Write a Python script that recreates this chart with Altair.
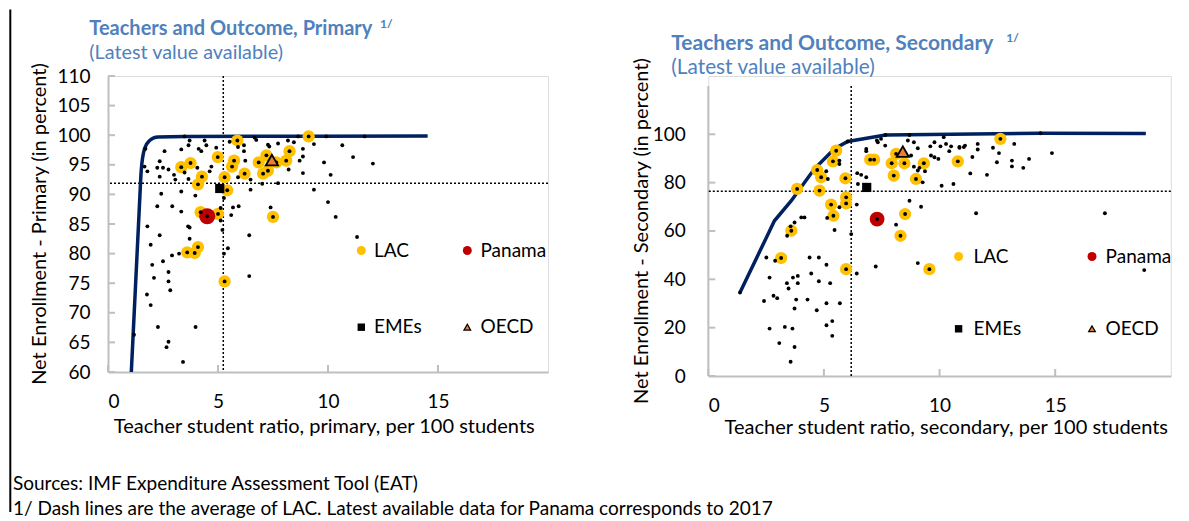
import altair as alt
import pandas as pd

FONT = "Lato"
TITLE_BLUE = "#4F81BD"
NAVY = "#002060"
YELLOW = "#FFC000"
RED = "#C00000"
ORANGE = "#ED7D31"
AXIS_GRAY = "#BFBFBF"

# ---------------- Primary (left) ----------------
p_all_x = [3.48, 3.71, 4.39, 1.70, 2.57, 3.33, 3.66, 4.12, 4.24, 4.47, 4.92, 5.53, 5.91, 6.18, 6.18, 6.66, 6.74, 7.27, 7.33, 7.73,
           8.18, 8.45, 8.64, 8.86, 9.36, 9.92, 10.65, 11.14, 1.66, 1.79, 2.35, 2.24, 2.5, 2.75, 3.0, 2.35, 3.06, 3.48, 3.66, 4.06,
           4.7, 4.62, 6.24, 6.48, 5.91, 7.01, 6.48, 7.73, 8.21, 8.71, 8.86, 8.86, 9.82, 10.12, 9.36, 10.0, 2.42, 3.33, 3.97, 2.24,
           2.92, 5.27, 5.68, 5.94, 7.39, 3.33, 5.12, 5.6, 10.35, 5.12, 5.2, 1.79, 3.64, 3.71, 2.35, 6.42, 11.32, 1.94, 3.71, 5.45,
           5.27, 2.91, 3.23, 2.5, 2.01, 2.75, 2.09, 2.75, 6.42, 2.83, 1.77, 1.94, 2.27, 3.98, 1.18, 2.75, 2.66, 3.41, 12.04, 11.66]
p_all_y = [99.8, 99.1, 99.1, 97.7, 97.3, 97.6, 98.3, 97.7, 97.3, 98.3, 97.9, 98.9, 98.0, 98.3, 97.3, 99.6, 99.2, 98.4, 98.1, 98.6,
           99.1, 98.8, 99.8, 97.7, 98.5, 99.8, 98.3, 96.3, 94.7, 93.9, 95.6, 94.5, 94.5, 94.2, 93.3, 93.0, 92.5, 93.7, 92.6, 94.5,
           94.7, 93.9, 95.7, 92.5, 92.9, 91.8, 90.8, 91.9, 94.2, 95.7, 96.4, 93.6, 95.4, 93.3, 90.8, 88.7, 90.1, 90.5, 89.8, 88.0,
           88.0, 89.4, 87.8, 88.0, 87.8, 87.1, 87.7, 86.5, 86.2, 85.6, 84.0, 84.6, 84.6, 84.4, 83.1, 83.1, 82.8, 81.5, 82.5, 80.9,
           80.0, 79.7, 80.0, 78.7, 78.1, 76.9, 75.9, 75.3, 76.2, 73.8, 73.1, 71.3, 67.6, 67.6, 66.3, 65.1, 64.2, 61.7, 95.2, 99.8]
p_lac_x = [5.88, 4.99, 3.75, 3.33, 4.27, 4.09, 5.73, 5.64, 5.3, 5.42, 6.21, 6.85, 7.2, 7.05, 7.27, 7.65, 8.1, 8.25, 9.12,
           4.21, 5.0, 7.5, 3.6, 3.94, 4.09, 5.3]
p_lac_y = [99.1, 96.3, 95.3, 94.6, 93.0, 91.7, 95.7, 94.7, 92.9, 90.7, 93.5, 95.4, 96.6, 93.5, 94.0, 95.4, 95.7, 97.3, 99.8,
           87.0, 86.7, 86.2, 80.2, 80.1, 81.1, 75.3]
p_pan = (4.51, 86.3)
p_eme = (5.08, 91.0)
p_oecd = (7.45, 95.8)
p_avg = (5.24, 91.9)
p_front_x = [1.06, 1.44, 1.51, 1.66, 1.89, 2.27, 3.5, 14.53]
p_front_y = [60.0, 89.0, 94.0, 97.7, 99.1, 99.7, 99.8, 99.85]
p_xticks = [0, 5, 10, 15]
p_yticks = [60, 65, 70, 75, 80, 85, 90, 95, 100, 105, 110]

# ---------------- Secondary (right) ----------------
s_all_x = [6.03, 7.29, 7.33, 7.47, 7.65, 8.7, 8.63, 8.89, 9.06, 9.6, 9.78, 10.04, 10.18, 10.28, 10.5, 10.42, 9.63, 9.78, 9.95,
           10.86, 6.83, 6.83, 8.77, 9.13, 9.06, 8.89, 9.37, 6.44, 6.61, 6.83, 6.47, 9.27, 10.09, 10.6, 5.67, 5.67, 5.17, 5.1,
           4.02, 4.16, 5.14, 5.67, 6.42, 8.7, 9.2, 8.12, 5.46, 7.66, 3.73, 3.56, 3.41, 6.18, 2.51, 2.89, 4.38, 4.78, 5.11, 6.42,
           7.24, 9.06, 2.65, 3.66, 3.87, 4.45, 3.87, 3.4, 4.78, 5.27, 3.47, 2.41, 2.82, 2.98, 3.8, 4.29, 5.11, 5.69, 3.73, 4.69,
           2.65, 3.31, 3.64, 5.36, 5.11, 5.36, 3.07, 3.73, 3.56, 1.37, 14.36, 10.86, 11.05, 11.1, 11.65, 11.65, 12.31, 12.57,
           13.23, 11.42, 12.48, 13.13, 13.13, 13.62, 13.87, 14.86, 11.33, 12.05, 11.58, 17.15, 18.85]
s_all_y = [97.0, 97.4, 96.7, 98.1, 95.3, 99.7, 97.4, 96.7, 94.2, 95.0, 96.7, 95.0, 98.8, 96.0, 95.0, 93.0, 91.2, 90.5, 89.8,
           94.8, 93.9, 93.0, 91.2, 86.1, 85.0, 86.6, 84.7, 83.9, 83.2, 82.2, 79.4, 80.1, 78.7, 79.4, 89.1, 87.7, 81.5, 84.7,
           65.6, 65.6, 65.4, 69.8, 70.9, 72.5, 70.0, 62.6, 60.4, 99.7, 63.5, 61.9, 58.0, 58.7, 49.0, 47.7, 49.0, 49.0, 46.0, 42.4,
           45.3, 46.7, 40.7, 40.7, 41.4, 42.4, 38.4, 38.4, 39.2, 38.4, 36.2, 31.0, 33.2, 32.2, 31.6, 31.6, 30.1, 30.1, 27.9, 27.2,
           19.6, 20.3, 19.6, 22.7, 21.0, 16.6, 13.6, 12.0, 5.9, 34.5, 100.4, 94.4, 94.7, 95.3, 96.0, 93.7, 94.4, 92.2,
           96.0, 90.6, 88.4, 89.1, 86.7, 86.1, 89.8, 92.2, 83.8, 83.2, 67.3, 67.3, 43.8]
s_lac_x = [5.53, 5.39, 4.71, 4.88, 3.84, 4.81, 5.93, 5.96, 5.96, 5.31, 5.41, 7.0, 7.17, 7.93, 8.12, 8.48, 8.02, 9.32, 8.98,
           8.51, 10.79, 3.59, 3.15, 5.96, 8.31, 9.56, 12.63]
s_lac_y = [93.2, 88.8, 85.2, 82.2, 77.4, 76.7, 81.8, 73.9, 71.4, 70.9, 66.3, 89.5, 89.5, 88.0, 91.9, 88.0, 82.9, 88.0, 81.5,
           67.0, 88.8, 60.1, 48.8, 44.2, 58.0, 44.2, 98.1]
s_pan = (7.3, 64.9)
s_eme = (6.85, 78.0)
s_oecd = (8.41, 92.8)
s_avg = (6.18, 76.4)
s_front_x = [1.37, 2.86, 3.59, 4.59, 5.46, 6.03, 7.66, 14.36, 18.92]
s_front_y = [34.5, 64.2, 72.5, 85.7, 94.0, 97.0, 99.7, 100.4, 100.3]
s_xticks = [0, 5, 10, 15]
s_yticks = [0, 20, 40, 60, 80, 100]

# ---------------- Texts ----------------
p_title = "Teachers and Outcome, Primary"
s_title = "Teachers and Outcome, Secondary"
subtitle = "(Latest value available)"
sup = "1/"
p_ytitle = "Net Enrollment - Primary (in percent)"
s_ytitle = "Net Enrollment - Secondary (in percent)"
p_xtitle = "Teacher student  ratio, primary, per 100 students"
s_xtitle = "Teacher student ratio, secondary, per 100 students"
legend_labels = ["LAC", "Panama", "EMEs", "OECD"]
notes = ["Sources: IMF Expenditure Assessment Tool (EAT)",
         "1/ Dash lines are the average of LAC. Latest available data for Panama corresponds to 2017"]

ONE = pd.DataFrame({"a": [0]})


def txt(s, x, y, size=18, color="black", weight="normal", align="left", angle=0):
    return alt.Chart(ONE).mark_text(align=align, baseline="middle", fontSize=size, color=color,
                                    fontWeight=weight, font=FONT, angle=angle).encode(
        x=alt.value(x), y=alt.value(y), text=alt.value(s))


def sym(x, y, shape, color, size, stroke=None):
    kw = dict(shape=shape, filled=True, fill=color, size=size, opacity=1)
    if stroke:
        kw.update(stroke=stroke, strokeWidth=1.2)
    else:
        kw.update(strokeWidth=0)
    return alt.Chart(ONE).mark_point(**kw).encode(x=alt.value(x), y=alt.value(y))


def panel(all_x, all_y, lac_x, lac_y, pan, eme, oecd, avg, fr_x, fr_y, interp,
          xticks, yticks, ydom, ytop, W, H, ylabpad, texts, leg, extra, pan_size, avg_vert_full):
    X = alt.X("x:Q", scale=alt.Scale(domain=[0, 20], nice=False, zero=False),
              axis=alt.Axis(values=xticks, grid=False, ticks=False, tickSize=0, domain=True,
                            domainColor=AXIS_GRAY, domainWidth=2, labelPadding=20, labelFontSize=19,
                            labelColor="black", labelFont=FONT, title=None))
    Y = alt.Y("y:Q", scale=alt.Scale(domain=ydom, nice=False, zero=False),
              axis=alt.Axis(values=yticks, grid=False, ticks=False, tickSize=0, domain=avg_vert_full,
                            domainColor=AXIS_GRAY, domainWidth=2, labelPadding=ylabpad, labelFontSize=19,
                            labelColor="black", labelFont=FONT, title=None))
    allpts = pd.DataFrame({"x": all_x + lac_x + [pan[0]], "y": all_y + lac_y + [pan[1]]})
    lac = pd.DataFrame({"x": lac_x, "y": lac_y})
    layers = []
    # axis ticks drawn inside
    layers.append(alt.Chart(pd.DataFrame({"x": xticks})).mark_rule(color=AXIS_GRAY, strokeWidth=2).encode(
        x=X, y=alt.value(H), y2=alt.value(H - 7)))
    layers.append(alt.Chart(pd.DataFrame({"y": yticks})).mark_rule(color=AXIS_GRAY, strokeWidth=2).encode(
        y=Y, x=alt.value(0), x2=alt.value(7)))
    if not avg_vert_full:
        layers.append(alt.Chart(pd.DataFrame({"y": [ydom[0]], "y2": [ytop]})).mark_rule(
            color=AXIS_GRAY, strokeWidth=2).encode(x=alt.value(0), y=Y, y2="y2:Q"))
    # LAC average dotted lines
    if avg_vert_full:
        layers.append(alt.Chart(pd.DataFrame({"x": [avg[0]]})).mark_rule(
            color="black", strokeWidth=1.5, strokeDash=[2, 2]).encode(x=X))
    else:
        layers.append(alt.Chart(pd.DataFrame({"x": [avg[0]], "y": [ydom[0]], "y2": [ytop]})).mark_rule(
            color="black", strokeWidth=1.5, strokeDash=[2, 2]).encode(x=X, y=Y, y2="y2:Q"))
    layers.append(alt.Chart(pd.DataFrame({"y": [avg[1]]})).mark_rule(
        color="black", strokeWidth=1.5, strokeDash=[2, 2]).encode(y=Y))
    # frontier
    layers.append(alt.Chart(pd.DataFrame({"x": fr_x, "y": fr_y})).mark_line(
        color=NAVY, strokeWidth=3.5, interpolate=interp).encode(x=X, y=Y, order="x:Q"))
    # LAC
    layers.append(alt.Chart(lac).mark_circle(color=YELLOW, size=150, opacity=1).encode(x=X, y=Y))
    layers.append(alt.Chart(pd.DataFrame({"x": [pan[0]], "y": [pan[1]]})).mark_circle(
        color=RED, size=pan_size, opacity=1).encode(x=X, y=Y))
    # all countries
    layers.append(alt.Chart(allpts).mark_circle(color="black", size=15, opacity=1).encode(x=X, y=Y))
    layers.append(alt.Chart(pd.DataFrame({"x": [eme[0]], "y": [eme[1]]})).mark_point(
        shape="square", filled=True, fill="black", size=85, opacity=1, strokeWidth=0).encode(x=X, y=Y))
    layers.append(alt.Chart(pd.DataFrame({"x": [oecd[0]], "y": [oecd[1]]})).mark_point(
        shape="triangle-up", filled=True, fill=ORANGE, stroke="black", strokeWidth=1.8, size=150,
        opacity=1).encode(x=X, y=Y))
    # legend
    (lx1, lx2, ly1, ly2, tx1, tx2) = leg
    layers += [sym(lx1, ly1, "circle", YELLOW, 80), sym(lx2, ly1, "circle", RED, 80),
               sym(lx1, ly2, "square", "black", 55), sym(lx2, ly2, "triangle-up", ORANGE, 45, stroke="black"),
               txt(legend_labels[0], tx1, ly1, size=19), txt(legend_labels[1], tx2, ly1, size=19),
               txt(legend_labels[2], tx1, ly2, size=19), txt(legend_labels[3], tx2, ly2, size=19)]
    # titles
    (title, tsize, tx, ty, supx, supy, ytitle, ytx, yty, xtitle, xtx, xty) = texts
    layers += [txt(title, tx, ty, size=tsize, color=TITLE_BLUE, weight="bold"),
               txt(sup, supx, supy, size=12, color=TITLE_BLUE, weight="bold"),
               txt(subtitle, tx, ty + 24, size=tsize - 0.2, color=TITLE_BLUE),
               txt(ytitle, ytx, yty, size=20, align="center", angle=270),
               txt(xtitle, xtx, xty, size=20, align="center")]
    layers += extra
    return alt.layer(*layers).properties(width=W, height=H)


border = alt.Chart(ONE).mark_rule(color="black", strokeWidth=2).encode(
    x=alt.value(-97.7), x2=alt.value(-97.7), y=alt.value(-66.5), y2=alt.value(436))
left_extra = [border, txt(notes[0], -95, 407.5, size=19), txt(notes[1], -95, 432.5, size=19)]

left = panel(p_all_x, p_all_y, p_lac_x, p_lac_y, p_pan, p_eme, p_oecd, p_avg, p_front_x, p_front_y, "monotone",
             p_xticks, p_yticks, [60, 110], 110, 440, 296, 18,
             (p_title, 20, -18.7, -47.5, 272, -52.5, p_ytitle, -67.7, 148, p_xtitle, 216.3, 350.5),
             (253.3, 359.3, 174.5, 251.2, 266, 372.5), left_extra, 260, True)

right = panel(s_all_x, s_all_y, s_lac_x, s_lac_y, s_pan, s_eme, s_oecd, s_avg, s_front_x, s_front_y, "linear",
              s_xticks, s_yticks, [0, 124.1], 120, 462.5, 300, 23,
              (s_title, 21, -37, -32.5, 298, -38.5, s_ytitle, -66, 155, s_xtitle, 238, 351.5),
              (250.3, 383.7, 180.5, 252.8, 265.3, 397.3), [], 220, False)

chart = alt.hconcat(left, right, spacing=160.3, bounds="flush").properties(padding=0).configure_view(
    stroke=None).configure(font=FONT)

chart.save("out.html", embed_options={"renderer": "svg", "actions": False})
